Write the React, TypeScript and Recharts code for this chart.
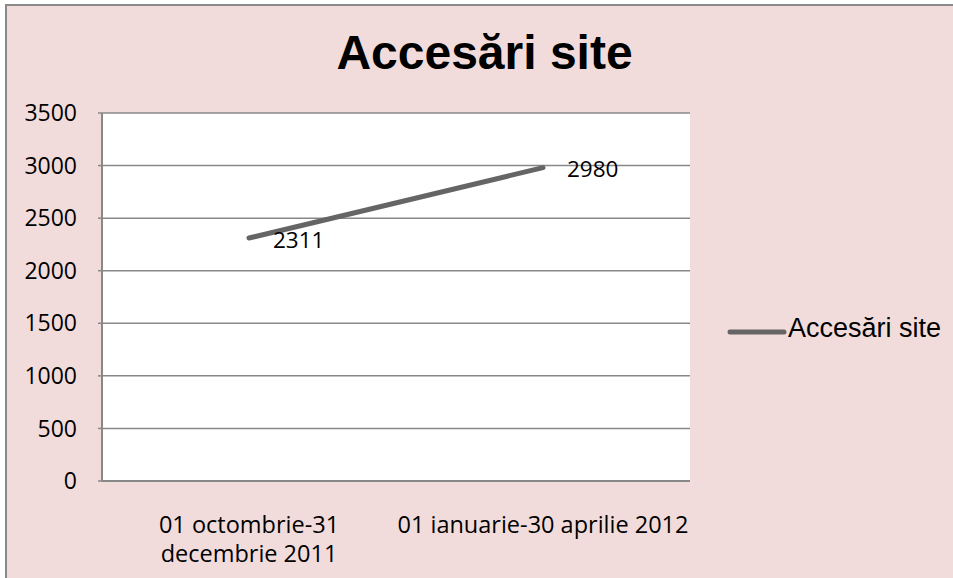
import React from "react";
import { LineChart, Line, XAxis, YAxis, CartesianGrid, LabelList } from "recharts";

const title = "Accesări site";
const seriesName = "Accesări site";
const categories = ["01 octombrie-31\ndecembrie 2011", "01 ianuarie-30 aprilie 2012"];
const visits = [2311, 2980];
const yTicks = [0, 500, 1000, 1500, 2000, 2500, 3000, 3500];

const data = categories.map((c, i) => ({ period: c, value: visits[i] }));

const GRID = "#888888";
const LINE = "#656565";
const FONT = "'Open Sans', sans-serif";

const CategoryTick = (props: any) => {
  const { x, y, payload } = props;
  const lines = String(payload.value).split("\n");
  return (
    <text x={x} y={y} textAnchor="middle" fontFamily={FONT} fontSize={23.5} fill="#000">
      {lines.map((l, i) => (
        <tspan key={i} x={x} dy={i === 0 ? 52 : 29}>
          {l}
        </tspan>
      ))}
    </text>
  );
};

const ValueLabel = (props: any) => {
  const { x, y, value } = props;
  return (
    <text x={x + 24} y={y + 1} dominantBaseline="central" fontFamily={FONT} fontSize={22.5} fill="#000">
      {value}
    </text>
  );
};

export default function App() {
  return (
    <div
      style={{
        position: "absolute",
        left: 0,
        top: 0,
        width: 953,
        height: 578,
        overflow: "hidden",
        background: "#ffffff",
      }}
    >
      <div
        style={{
          position: "absolute",
          left: 5,
          top: 4,
          width: 1000,
          height: 620,
          background: "#F2DCDB",
          borderLeft: "2px solid #898989",
          borderTop: "2px solid #898989",
        }}
      />
      <div
        style={{
          position: "absolute",
          left: 0,
          width: 969,
          top: 29,
          textAlign: "center",
          fontFamily: "'Liberation Sans', Arial, sans-serif",
          fontWeight: "bold",
          fontSize: 48,
          lineHeight: "48px",
          color: "#000",
        }}
      >
        {title}
      </div>
      <div style={{ position: "absolute", left: 0, top: 0 }}>
        <LineChart
          width={953}
          height={578}
          data={data}
          margin={{ top: 113, right: 263, bottom: 37, left: 22 }}
        >
          <CartesianGrid vertical={false} stroke={GRID} strokeWidth={1.5} fill="#ffffff" />
          <XAxis
            dataKey="period"
            padding={{ left: 147, right: 147 }}
            axisLine={{ stroke: GRID, strokeWidth: 2 }}
            tickLine={false}
            tickSize={0}
            tickMargin={0}
            height={60}
            interval={0}
            tick={<CategoryTick />}
          />
          <YAxis
            width={80}
            domain={[0, 3500]}
            ticks={yTicks}
            interval={0}
            axisLine={{ stroke: GRID, strokeWidth: 2 }}
            tickLine={{ stroke: GRID, strokeWidth: 1.5 }}
            tickSize={4}
            tickMargin={21}
            tick={{ fontFamily: FONT, fontSize: 23, fill: "#000" }}
          />
          <Line
            type="linear"
            dataKey="value"
            name={seriesName}
            stroke={LINE}
            strokeWidth={5}
            strokeLinecap="round"
            dot={false}
            activeDot={false}
            isAnimationActive={false}
          >
            <LabelList dataKey="value" content={<ValueLabel />} />
          </Line>
        </LineChart>
      </div>
      <svg style={{ position: "absolute", left: 723, top: 310 }} width={230} height={40}>
        <line x1={7} y1={22} x2={61} y2={22} stroke={LINE} strokeWidth={5} strokeLinecap="round" />
        <text x={65} y={27} fontFamily="'Liberation Sans', Arial, sans-serif" fontSize={27} fill="#000">
          {seriesName}
        </text>
      </svg>
    </div>
  );
}
